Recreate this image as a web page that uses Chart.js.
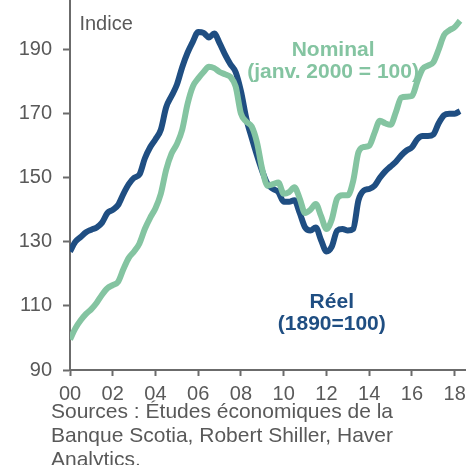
<!DOCTYPE html>
<html>
<head>
<meta charset="utf-8">
<script src="https://cdn.jsdelivr.net/npm/chart.js@4/dist/chart.umd.min.js"></script>
<style>
  html, body { margin: 0; padding: 0; background: #fff; }
  #wrap { position: relative; width: 466px; height: 465px; overflow: hidden; }
  #source {
    position: absolute; left: 51px; top: 399px; width: 352px;
    font-family: "Liberation Sans", Arial, sans-serif; font-size: 21px;
    line-height: 24px; color: #595959;
  }
</style>
</head>
<body>
<div id="wrap">
  <canvas id="chart" width="466" height="465"></canvas>
  <div id="source">Sources : Études économiques de la Banque Scotia, Robert Shiller, Haver Analytics.</div>
</div>
<script>
// quarterly dates (2000.00 ... 2018.25)
const dates = [
  2000.00, 2000.25, 2000.50, 2000.75, 2001.00, 2001.25, 2001.50, 2001.75,
  2002.00, 2002.25, 2002.50, 2002.75, 2003.00, 2003.25, 2003.50, 2003.75,
  2004.00, 2004.25, 2004.50, 2004.75, 2005.00, 2005.25, 2005.50, 2005.75,
  2006.00, 2006.25, 2006.50, 2006.75, 2007.00, 2007.25, 2007.50, 2007.75,
  2008.00, 2008.25, 2008.50, 2008.75, 2009.00, 2009.25, 2009.50, 2009.75,
  2010.00, 2010.25, 2010.50, 2010.75, 2011.00, 2011.25, 2011.50, 2011.75,
  2012.00, 2012.25, 2012.50, 2012.75, 2013.00, 2013.25, 2013.50, 2013.75,
  2014.00, 2014.25, 2014.50, 2014.75, 2015.00, 2015.25, 2015.50, 2015.75,
  2016.00, 2016.25, 2016.50, 2016.75, 2017.00, 2017.25, 2017.50, 2017.75,
  2018.00, 2018.25
];

// Réel (1890=100)
const reel = [
  127, 130, 131.5, 133, 133.8, 134.5, 136, 139,
  140, 141.5, 145, 148, 150, 151, 156, 159.5,
  162, 165, 172, 175.5, 179, 184.5, 189, 192.5,
  195.5, 195.2, 193.8, 195, 192, 188.5, 185.5, 183,
  177, 168.5, 162.5, 157, 152, 148, 146.5, 145.5,
  142.5, 142.5, 143, 139, 134.5, 133.5, 134.5, 130.5,
  127, 128.5, 133.5, 134, 133.5, 134, 143, 146,
  146.5, 147.5, 150, 152, 153.5, 155, 157, 158.5,
  159.5, 162, 163, 163, 163.5, 167, 169.5, 170,
  170, 170.8
];

// Nominal (janv. 2000 = 100)
const nominal = [
  99.5, 103, 105.5, 107.5, 109, 111, 113.5, 115.5,
  116.5, 117.5, 121.5, 125, 127, 129.5, 134, 137.5,
  140.5, 145, 152.5, 157.5, 160.5, 165, 173, 178.5,
  181, 183, 184.6, 184.2, 183, 182.3, 181.5, 178.5,
  170, 167.5, 166, 161, 152.5, 147.5, 148, 148.5,
  145, 145.5, 147, 143.5, 139, 140, 141.8, 138,
  134, 137, 143.5, 144.5, 144.5, 149, 158, 159.6,
  160, 164, 167.8, 167, 166.5, 170.5, 175, 175.3,
  175.5, 180, 184, 185, 186, 190, 194.5, 196,
  197, 199
];

const xTicks = [2000, 2002, 2004, 2006, 2008, 2010, 2012, 2014, 2016, 2018];
const yTicks = [90, 110, 130, 150, 170, 190];

const BLUE = '#1f4e82';
const GREEN = '#84c4a1';
const GREY = '#595959';
const FONT = '"Liberation Sans", Arial, sans-serif';

// in-chart labels, placed in data coordinates
const labels = [
  { text: 'Indice', x: 2000.44, y: 197.7, color: GREY, bold: false, size: 20, align: 'left' },
  { text: 'Nominal', x: 2012.31, y: 189.8, color: GREEN, bold: true, size: 21, align: 'center' },
  { text: '(janv. 2000 = 100)', x: 2012.31, y: 183, color: GREEN, bold: true, size: 21, align: 'center' },
  { text: 'Réel', x: 2012.25, y: 111.2, color: BLUE, bold: true, size: 21, align: 'center' },
  { text: '(1890=100)', x: 2012.25, y: 104.4, color: BLUE, bold: true, size: 21, align: 'center' }
];

const textPlugin = {
  id: 'textLabels',
  afterDatasetsDraw(chart) {
    const ctx = chart.ctx;
    const xs = chart.scales.x, ys = chart.scales.y;
    ctx.save();
    labels.forEach(l => {
      ctx.font = (l.bold ? 'bold ' : '') + l.size + 'px ' + FONT;
      ctx.fillStyle = l.color;
      ctx.textAlign = l.align;
      ctx.textBaseline = 'middle';
      ctx.fillText(l.text, xs.getPixelForValue(l.x), ys.getPixelForValue(l.y));
    });
    ctx.restore();
  }
};

const pts = (vals) => dates.map((d, i) => ({ x: d, y: vals[i] }));

new Chart(document.getElementById('chart').getContext('2d'), {
  type: 'line',
  data: {
    datasets: [
      { label: 'Nominal', data: pts(nominal), borderColor: GREEN, borderWidth: 6, pointRadius: 0, tension: 0.4, cubicInterpolationMode: 'monotone' },
      { label: 'Réel', data: pts(reel), borderColor: BLUE, borderWidth: 6, pointRadius: 0, tension: 0.4, cubicInterpolationMode: 'monotone' }
    ]
  },
  options: {
    responsive: false,
    animation: false,
    layout: { padding: { top: 0, right: 0, left: 0, bottom: 65 } },
    plugins: { legend: { display: false }, tooltip: { enabled: false } },
    scales: {
      x: {
        type: 'linear',
        min: 2000,
        max: 2018.53,
        afterBuildTicks: (s) => { s.ticks = xTicks.map(v => ({ value: v })); },
        afterFit: (s) => { s.height = 30; s.paddingLeft = 0; s.paddingRight = 0; },
        ticks: {
          color: GREY,
          font: { family: FONT, size: 20 },
          padding: 6,
          maxRotation: 0,
          autoSkip: false,
          callback: (v) => String(v % 100).padStart(2, '0')
        },
        grid: { drawOnChartArea: false, drawTicks: true, tickLength: 6, tickColor: '#6b6b6b', tickWidth: 2 },
        border: { display: true, color: '#6b6b6b', width: 2 }
      },
      y: {
        min: 90,
        max: 205.47,
        afterBuildTicks: (s) => { s.ticks = yTicks.map(v => ({ value: v })); },
        afterFit: (s) => { s.width = 70; s.paddingTop = 0; s.paddingBottom = 0; },
        ticks: {
          color: GREY,
          font: { family: FONT, size: 20 },
          padding: 11
        },
        grid: { drawOnChartArea: false, drawTicks: true, tickLength: 7, tickColor: '#6b6b6b', tickWidth: 2 },
        border: { display: true, color: '#6b6b6b', width: 2 }
      }
    }
  },
  plugins: [textPlugin]
});
</script>
</body>
</html>
